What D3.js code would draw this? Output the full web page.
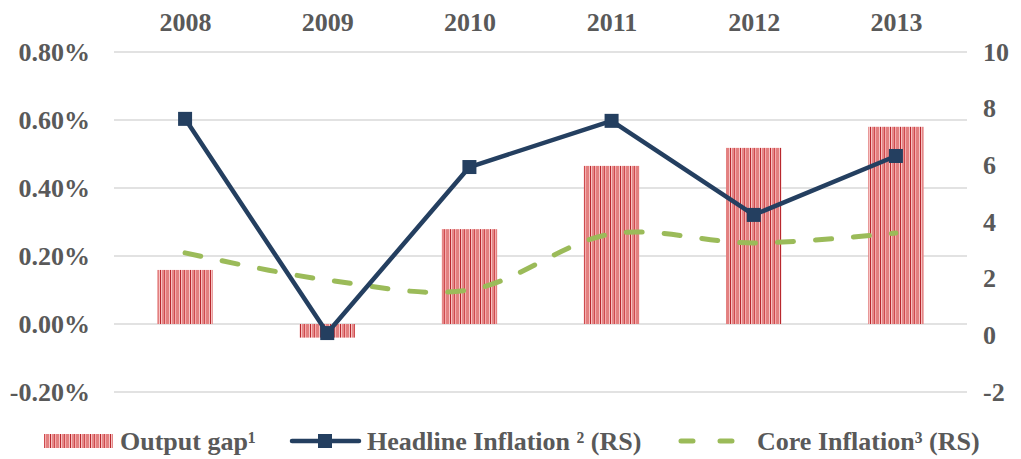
<!DOCTYPE html>
<html>
<head>
<meta charset="utf-8">
<script src="https://cdn.jsdelivr.net/npm/d3@7"></script>
<style>
  body { margin: 0; background: #fff; }
  text { font-family: "Liberation Serif", "Times New Roman", serif; font-weight: bold; fill: #595959; }
</style>
</head>
<body>
<div id="chart"></div>
<script>
const years = ["2008", "2009", "2010", "2011", "2012", "2013"];
const outputGap = [0.159, -0.04, 0.279, 0.465, 0.518, 0.58];      // %
const headline = [7.64, 0.08, 5.94, 7.57, 4.25, 6.33];
const core = [2.91, 1.95, 1.6, 3.58, 3.26, 3.61];
const leftTicks = [-0.2, 0, 0.2, 0.4, 0.6, 0.8];
const rightTicks = [-2, 0, 2, 4, 6, 8, 10];

const w = 1021, h = 459;
const margin = { top: 52, right: 54, bottom: 67, left: 114 };
const fs = "26px";

const svg = d3.select("#chart").append("svg")
    .attr("width", w)
    .attr("height", h);

// stripey fill for the bars
const defs = svg.append("defs");
const pat = defs.append("pattern")
    .attr("id", "stripes")
    .attr("patternUnits", "userSpaceOnUse")
    .attr("width", 10)
    .attr("height", 10);
const stripes = [
    { x: 0, w: 1, c: "#b8282e" },
    { x: 1, w: 1, c: "#f7c2c2" },
    { x: 2, w: 2, c: "#e58888" },
    { x: 4, w: 1, c: "#cf4a4e" },
    { x: 5, w: 1, c: "#f4b0b0" },
    { x: 6, w: 3, c: "#e38080" },
    { x: 9, w: 1, c: "#f7c4c4" }
];
stripes.forEach(s => pat.append("rect")
    .attr("x", s.x).attr("y", 0).attr("width", s.w).attr("height", 10).attr("fill", s.c));

const x = d3.scaleBand()
    .domain(years)
    .range([margin.left, w - margin.right])
    .paddingInner(0.61)
    .paddingOuter(0.305);

const xc = d3.scalePoint()
    .domain(years)
    .range([margin.left, w - margin.right])
    .padding(0.5);

const yL = d3.scaleLinear().domain([-0.2, 0.8]).range([h - margin.bottom, margin.top]);
const yR = d3.scaleLinear().domain([-2, 10]).range([h - margin.bottom, margin.top]);

// gridlines
svg.append("g")
    .selectAll("line")
    .data(leftTicks)
    .join("line")
    .attr("x1", margin.left)
    .attr("x2", w - margin.right)
    .attr("y1", d => yL(d))
    .attr("y2", d => yL(d))
    .attr("stroke", "#d9d9d9")
    .attr("stroke-width", 1.5);

const styleText = sel => sel
    .style("font-size", fs)
    .style("font-family", "Liberation Serif")
    .style("font-weight", "bold")
    .attr("fill", "#595959");

// left axis
const leftAxis = d3.axisLeft(yL)
    .tickValues(leftTicks)
    .tickFormat(d => d.toFixed(2) + "%")
    .tickSize(0)
    .tickPadding(24);
svg.append("g")
    .attr("transform", `translate(${margin.left},0)`)
    .call(leftAxis)
    .call(g => g.select(".domain").remove())
    .selectAll("text")
    .call(styleText);

// right axis
const rightAxis = d3.axisRight(yR)
    .tickValues(rightTicks)
    .tickFormat(d => String(d))
    .tickSize(0)
    .tickPadding(16);
svg.append("g")
    .attr("transform", `translate(${w - margin.right},0)`)
    .call(rightAxis)
    .call(g => g.select(".domain").remove())
    .selectAll("text")
    .call(styleText);

// top category labels
const topAxis = d3.axisTop(xc).tickSize(0).tickPadding(0);
svg.append("g")
    .attr("transform", `translate(0,31)`)
    .call(topAxis)
    .call(g => g.select(".domain").remove())
    .selectAll("text")
    .attr("dy", 0)
    .call(styleText);

// bars
svg.append("g")
    .selectAll("rect")
    .data(years.map((y, i) => ({ y, v: outputGap[i] })))
    .join("rect")
    .attr("x", d => x(d.y))
    .attr("width", x.bandwidth())
    .attr("y", d => yL(Math.max(0, d.v)))
    .attr("height", d => Math.abs(yL(d.v) - yL(0)))
    .attr("fill", "url(#stripes)");

// core inflation, smoothed dashed
const coreLine = d3.line()
    .x((d, i) => xc(years[i]))
    .y(d => yR(d))
    .curve(d3.curveCatmullRom.alpha(0.5));
svg.append("path")
    .datum(core)
    .attr("d", coreLine)
    .attr("fill", "none")
    .attr("stroke", "#9bbb59")
    .attr("stroke-width", 5)
    .attr("stroke-linecap", "round")
    .attr("stroke-dasharray", "16 22");

// headline inflation
const headLine = d3.line()
    .x((d, i) => xc(years[i]))
    .y(d => yR(d));
svg.append("path")
    .datum(headline)
    .attr("d", headLine)
    .attr("fill", "none")
    .attr("stroke", "#243f60")
    .attr("stroke-width", 4.5)
    .attr("stroke-linejoin", "round");

svg.append("g")
    .selectAll("rect")
    .data(headline)
    .join("rect")
    .attr("x", (d, i) => xc(years[i]) - 7)
    .attr("y", d => yR(d) - 7)
    .attr("width", 14)
    .attr("height", 14)
    .attr("fill", "#243f60");

// legend
const lg = svg.append("g").attr("transform", "translate(0,441)");
lg.append("rect")
    .attr("x", 44).attr("y", -7).attr("width", 69).attr("height", 14)
    .attr("fill", "url(#stripes)");
lg.append("text").attr("x", 120).attr("y", 9).text("Output gap¹").call(styleText);

lg.append("line")
    .attr("x1", 292).attr("x2", 359).attr("y1", 0).attr("y2", 0)
    .attr("stroke", "#243f60").attr("stroke-width", 4.5).attr("stroke-linecap", "round");
lg.append("rect")
    .attr("x", 318).attr("y", -7).attr("width", 14).attr("height", 14).attr("fill", "#243f60");
lg.append("text").attr("x", 367).attr("y", 9).text("Headline Inflation ² (RS)").call(styleText);

lg.append("line")
    .attr("x1", 681).attr("x2", 740).attr("y1", 0).attr("y2", 0)
    .attr("stroke", "#9bbb59").attr("stroke-width", 5).attr("stroke-linecap", "round")
    .attr("stroke-dasharray", "12 27");
lg.append("text").attr("x", 757).attr("y", 9).text("Core Inflation³ (RS)").call(styleText);
</script>
</body>
</html>
